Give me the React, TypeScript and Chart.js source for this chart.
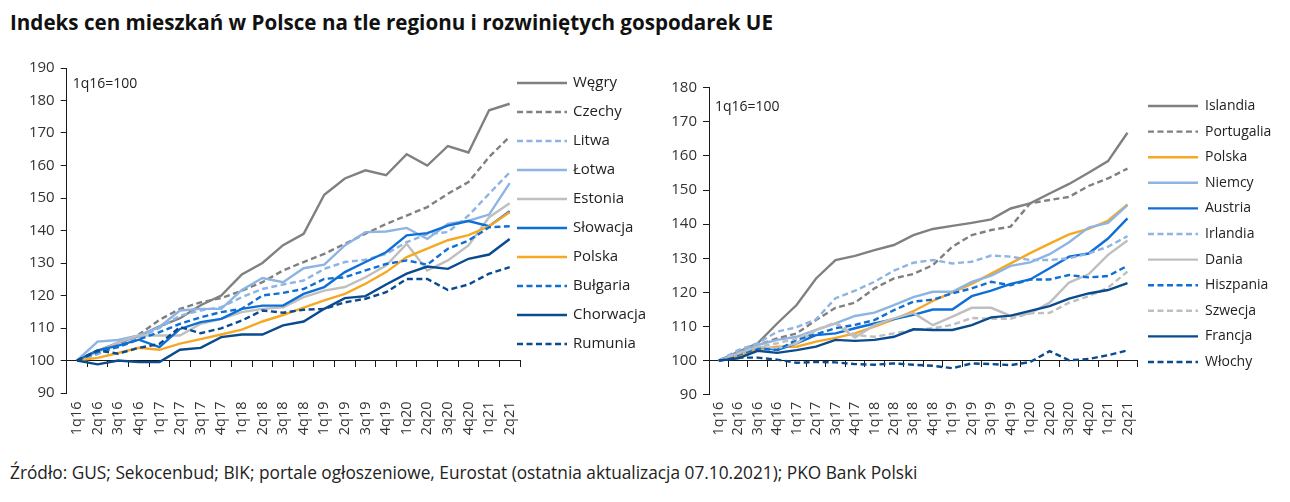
import React, { useEffect, useRef } from "react";
import { Chart, registerables } from "chart.js";

Chart.register(...registerables);

const FONT = "'Open Sans', 'DejaVu Sans', sans-serif";

const quarters = [
  "1q16", "2q16", "3q16", "4q16", "1q17", "2q17", "3q17", "4q17", "1q18", "2q18", "3q18",
  "4q18", "1q19", "2q19", "3q19", "4q19", "1q20", "2q20", "3q20", "4q20", "1q21", "2q21",
];

// Left chart – region
const wegry = [100, 103, 105.5, 107.5, 110.5, 113, 117, 120, 126.5, 130, 135.5, 139, 151, 156, 158.5, 157, 163.5, 160, 166, 164, 177, 179];
const czechy = [100, 102, 105, 108, 112.5, 115.9, 117.9, 119.2, 121.5, 124.1, 127.7, 130.3, 132.8, 135.9, 139, 142, 144.6, 147.2, 151.3, 154.9, 162.6, 168.9];
const litwa = [100, 102, 104.5, 107, 110, 113.8, 115.4, 116.4, 119.5, 122, 123.4, 124.6, 128.2, 130.3, 131, 132.8, 136.4, 138.9, 139.5, 144.6, 151.3, 157.9];
const lotwa = [100, 105.8, 106.3, 107.7, 110.3, 115.4, 115.9, 115.9, 121.7, 125.4, 124.1, 128.4, 129.5, 135.4, 139.5, 139.7, 140.8, 137.4, 142, 143, 144.9, 154.6];
const estonia = [100, 102.6, 105.6, 107.7, 107.7, 107.7, 111.3, 112.8, 114.9, 115.9, 116.4, 119.5, 121.5, 122.6, 125.6, 129.2, 135.9, 127.7, 130.8, 135.4, 144.1, 148.4];
const slowacja = [100, 103.1, 104.6, 106.4, 104.1, 109.7, 111.8, 112.8, 115.9, 116.9, 116.9, 120.5, 122.6, 127.2, 130.3, 133.3, 138.5, 139.2, 141.5, 142.9, 141.3, 145.9];
const polskaL = [100, 100.8, 102.3, 103.9, 103.3, 105.2, 106.6, 108, 109.5, 112, 114, 116.3, 118.5, 120.5, 123.6, 127.2, 131.8, 134.4, 137, 138.6, 141.3, 145.6];
const bulgaria = [100, 102.6, 104.1, 106.5, 108.7, 111.3, 113.3, 114.9, 115.9, 120, 120.8, 122, 125.1, 125.6, 127.7, 129.7, 130.8, 129.5, 134.4, 136.9, 141, 141.3];
const chorwacja = [100, 98.8, 100, 99.5, 99.5, 103.3, 103.9, 107.2, 108, 108, 110.8, 112, 115.9, 119.2, 119.8, 123.4, 126.7, 128.9, 128.2, 131.3, 132.6, 137.4];
const rumunia = [100, 103.1, 102.1, 103.9, 105.1, 110.3, 108.4, 109.9, 112.3, 115.4, 114.7, 115.6, 115.9, 117.9, 119, 121, 125.1, 125.1, 121.7, 123.4, 126.7, 128.7];

// Right chart – developed EU economies
const islandia = [100, 102.6, 105.1, 110.9, 116.3, 124.1, 129.5, 130.7, 132.4, 133.9, 136.8, 138.6, 139.5, 140.4, 141.4, 144.6, 146.1, 149, 151.8, 155.1, 158.5, 166.8];
const portugalia = [100, 102.6, 104.6, 106.5, 108, 111.9, 115.5, 117, 121.2, 124.1, 125.4, 128, 133.4, 136.8, 138.3, 139.3, 146.1, 147.1, 148, 151.2, 153.4, 156.3];
const polskaR = [100, 101.2, 103.3, 104.1, 104.1, 105.6, 106.7, 108, 110, 112.1, 114.5, 117.5, 120, 122.5, 125.5, 128.5, 131.5, 134.3, 137, 138.6, 141, 145.8];
const niemcy = [100, 102.3, 104.6, 106.1, 107, 109, 110.9, 113.1, 114.1, 116.3, 118.6, 120.2, 120.2, 123.1, 124.9, 127.8, 128.8, 131.2, 134.7, 139, 140.4, 145.6];
const austria = [100, 102.1, 104.1, 103.1, 105.1, 107.5, 108, 109.5, 110.9, 112.2, 113.4, 115, 115, 118.9, 120.5, 122.5, 123.8, 127.1, 130.5, 131.4, 135.8, 141.7];
const irlandia = [100, 103.1, 105.1, 108.5, 109.8, 112.1, 118.3, 120.5, 123.1, 126.4, 128.7, 129.5, 128.5, 129, 130.8, 130.5, 129.5, 129.5, 130, 131.4, 133.4, 136.5];
const dania = [100, 102.1, 104.1, 103.6, 105.1, 109, 110.9, 106.8, 110.4, 112.4, 114, 110.4, 112.9, 115.5, 115.5, 113.1, 113.9, 117, 122.9, 125.3, 131, 135.2];
const hiszpania = [100, 101.7, 103.6, 103.1, 106.1, 107.8, 109.5, 110.5, 111.9, 114.8, 117.3, 117.9, 119.7, 121.2, 123.1, 122.1, 123.8, 123.8, 125.1, 124.4, 124.8, 127.8];
const szwecja = [100, 102.1, 104.1, 105.1, 106.5, 109, 111.2, 107.5, 107, 108, 109, 109.5, 110.5, 112.5, 112.3, 112.3, 113.9, 114, 117, 118.9, 121.4, 126.1];
const francja = [100, 100.7, 102.9, 102.3, 103.1, 104.1, 106.1, 105.8, 106.1, 107, 109.2, 109, 109, 110.4, 112.7, 113.2, 114.6, 116, 118.2, 119.7, 120.7, 122.7];
const wlochy = [100, 100.9, 100.9, 100.3, 99.4, 99.6, 99.5, 99, 98.8, 99.2, 98.8, 98.5, 97.8, 99.2, 99, 98.7, 99.6, 102.8, 100.1, 100.5, 101.6, 103];

const C_GRAY = "#808080";
const C_LBLUE = "#8db4e2";
const C_LGRAY = "#bfbfbf";
const C_BLUE = "#0f6fd6";
const C_ORANGE = "#f7a823";
const C_DBLUE = "#0a4b8f";
const DASH = [6, 3.5];

type S = { label: string; data: number[]; color: string; dashed: boolean };

const leftSeries: S[] = [
  { label: "Węgry", data: wegry, color: C_GRAY, dashed: false },
  { label: "Czechy", data: czechy, color: C_GRAY, dashed: true },
  { label: "Litwa", data: litwa, color: C_LBLUE, dashed: true },
  { label: "Łotwa", data: lotwa, color: C_LBLUE, dashed: false },
  { label: "Estonia", data: estonia, color: C_LGRAY, dashed: false },
  { label: "Słowacja", data: slowacja, color: C_BLUE, dashed: false },
  { label: "Polska", data: polskaL, color: C_ORANGE, dashed: false },
  { label: "Bułgaria", data: bulgaria, color: C_BLUE, dashed: true },
  { label: "Chorwacja", data: chorwacja, color: C_DBLUE, dashed: false },
  { label: "Rumunia", data: rumunia, color: C_DBLUE, dashed: true },
];

const rightSeries: S[] = [
  { label: "Islandia", data: islandia, color: C_GRAY, dashed: false },
  { label: "Portugalia", data: portugalia, color: C_GRAY, dashed: true },
  { label: "Polska", data: polskaR, color: C_ORANGE, dashed: false },
  { label: "Niemcy", data: niemcy, color: C_LBLUE, dashed: false },
  { label: "Austria", data: austria, color: C_BLUE, dashed: false },
  { label: "Irlandia", data: irlandia, color: C_LBLUE, dashed: true },
  { label: "Dania", data: dania, color: C_LGRAY, dashed: false },
  { label: "Hiszpania", data: hiszpania, color: C_BLUE, dashed: true },
  { label: "Szwecja", data: szwecja, color: C_LGRAY, dashed: true },
  { label: "Francja", data: francja, color: C_DBLUE, dashed: false },
  { label: "Włochy", data: wlochy, color: C_DBLUE, dashed: true },
];

const sideLegend = {
  id: "sideLegend",
  afterDraw(chart: any, _args: any, opts: any) {
    const ctx = chart.ctx;
    ctx.save();
    chart.data.datasets.forEach((ds: any, i: number) => {
      const y = opts.y0 + i * opts.step;
      ctx.strokeStyle = ds.borderColor;
      ctx.lineWidth = ds.borderWidth;
      ctx.setLineDash(ds.borderDash || []);
      ctx.beginPath();
      ctx.moveTo(opts.x0, y);
      ctx.lineTo(opts.x0 + opts.len, y);
      ctx.stroke();
      ctx.setLineDash([]);
      ctx.fillStyle = "#222";
      ctx.font = `${opts.fontSize}px ${FONT}`;
      ctx.textBaseline = "middle";
      ctx.textAlign = "left";
      ctx.fillText(ds.label, opts.x0 + opts.len + opts.gap, y);
    });
    ctx.restore();
  },
};

const baseNote = {
  id: "baseNote",
  afterDraw(chart: any, _args: any, opts: any) {
    const ctx = chart.ctx;
    const a = chart.chartArea;
    ctx.save();
    ctx.fillStyle = "#222";
    ctx.font = `${opts.fontSize}px ${FONT}`;
    ctx.textBaseline = "middle";
    ctx.fillText(opts.text, a.left + opts.dx, a.top + opts.dy);
    ctx.restore();
  },
};

function makeConfig(series: S[], yMax: number, padding: any, legend: any, note: any): any {
  const axisColor = "#1a1a1a";
  return {
    type: "line",
    data: {
      labels: quarters,
      datasets: series.map((s, i) => ({
        label: s.label,
        data: s.data,
        borderColor: s.color,
        backgroundColor: s.color,
        borderWidth: 2.4,
        borderDash: s.dashed ? DASH : [],
        pointRadius: 0,
        tension: 0,
        fill: false,
        order: series.length - i,
      })),
    },
    options: {
      responsive: false,
      animation: false,
      devicePixelRatio: 1,
      layout: { padding },
      plugins: {
        legend: { display: false },
        tooltip: { enabled: false },
        sideLegend: legend,
        baseNote: note,
      },
      scales: {
        x: {
          type: "category",
          position: { y: 100 },
          offset: true,
          afterFit: (s: any) => {
            s.height = 0;
          },
          ticks: {
            autoSkip: false,
            minRotation: 90,
            maxRotation: 90,
            padding: 35,
            color: "#333",
            font: { family: FONT, size: 14.5 },
          },
          grid: { offset: true, drawOnChartArea: false, drawTicks: true, tickLength: 6, color: axisColor },
          border: { display: true, color: axisColor, width: 1 },
        },
        y: {
          min: 90,
          max: yMax,
          afterFit: (s: any) => {
            s.width = 50;
          },
          ticks: { stepSize: 10, padding: 6, color: "#333", font: { family: FONT, size: 15 } },
          grid: { drawOnChartArea: false, drawTicks: true, tickLength: 6, color: axisColor },
          border: { display: true, color: axisColor, width: 1 },
        },
      },
    },
    plugins: [sideLegend, baseNote],
  };
}

function ChartBox(props: { config: any; left: number; top: number; width: number; height: number }) {
  const ref = useRef<HTMLCanvasElement | null>(null);
  useEffect(() => {
    if (!ref.current) return;
    const chart = new Chart(ref.current, props.config);
    return () => chart.destroy();
  }, []);
  return (
    <canvas
      ref={ref}
      width={props.width}
      height={props.height}
      style={{ position: "absolute", left: props.left, top: props.top, width: props.width, height: props.height }}
    />
  );
}

export default function App() {
  const leftCfg = makeConfig(
    leftSeries,
    190,
    { left: 16.7, right: 130, top: 18, bottom: 57 },
    { x0: 517, y0: 33, step: 29, len: 50, gap: 6, fontSize: 15 },
    { text: "1q16=100", dx: 6, dy: 16, fontSize: 14 }
  );
  const rightCfg = makeConfig(
    rightSeries,
    180,
    { left: 9, right: 640 - 487.2, top: 37.7, bottom: 55.2 },
    { x0: 498, y0: 56, step: 25.6, len: 50, gap: 7, fontSize: 14 },
    { text: "1q16=100", dx: 6, dy: 19, fontSize: 14 }
  );
  return (
    <div style={{ position: "absolute", left: 0, top: 0, width: 1290, height: 502, background: "#fff", overflow: "hidden" }}>
      <div
        style={{
          position: "absolute",
          left: 10,
          top: 8,
          fontFamily: FONT,
          fontWeight: 700,
          fontSize: 20.6,
          color: "#111",
          whiteSpace: "nowrap",
          lineHeight: "28px",
        }}
      >
        Indeks cen mieszkań w Polsce na tle regionu i rozwiniętych gospodarek UE
      </div>
      <ChartBox config={leftCfg} left={0} top={50} width={650} height={400} />
      <ChartBox config={rightCfg} left={650} top={50} width={640} height={400} />
      <div
        style={{
          position: "absolute",
          left: 10,
          top: 460,
          fontFamily: FONT,
          fontSize: 17.3,
          color: "#222",
          whiteSpace: "nowrap",
          lineHeight: "26px",
        }}
      >
        Źródło: GUS; Sekocenbud; BIK; portale ogłoszeniowe, Eurostat (ostatnia aktualizacja 07.10.2021); PKO Bank Polski
      </div>
    </div>
  );
}
